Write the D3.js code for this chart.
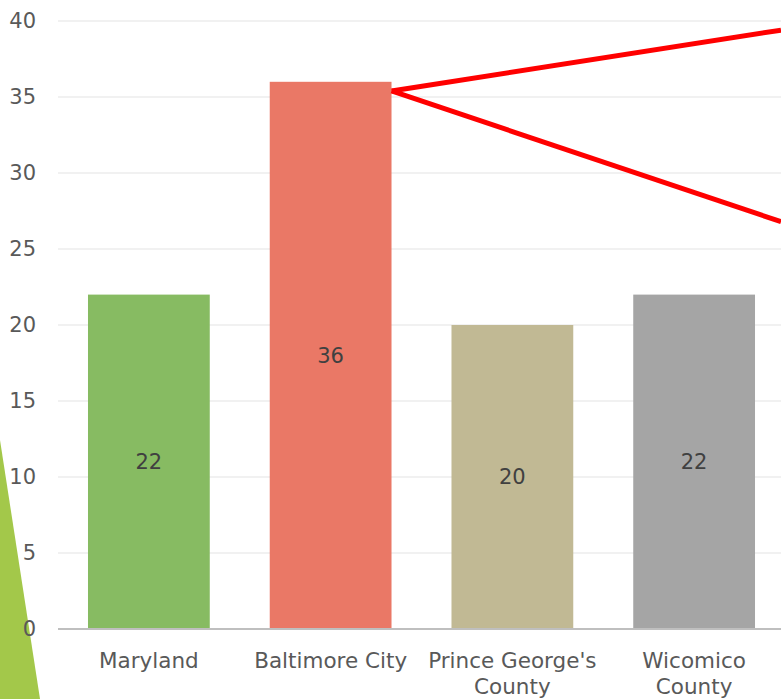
<!DOCTYPE html>
<html>
<head>
<meta charset="utf-8">
<script src="https://cdn.jsdelivr.net/npm/d3@7"></script>
<style>
html,body{margin:0;padding:0;background:#fff;overflow:hidden;}
svg{display:block;}
text{font-family:"DejaVu Sans",Verdana,sans-serif;}
</style>
</head>
<body>
<svg id="chart" width="781" height="699"></svg>
<script>
const categories = [["Maryland"], ["Baltimore City"], ["Prince George's", "County"], ["Wicomico", "County"]];
const values = [22, 36, 20, 22];
const barColors = ["#87bb62", "#ea7866", "#c1b994", "#a5a5a5"];
const yTicks = [0, 5, 10, 15, 20, 25, 30, 35, 40];
// annotation lines from the Baltimore City bar (values in data units)
const annoStart = 35.4;
const annoEnds = [39.4, 26.8];

const W = 781, H = 699;
const svg = d3.select("#chart");
const margin = {left: 58, top: 21, bottom: 70};
const plotRight = 785;

// decorative green triangle
svg.append("path")
  .attr("d", `M0,440 L40,${H} L0,${H} Z`)
  .attr("fill", "#a3c84a");

const x = d3.scaleBand().domain(d3.range(values.length)).range([margin.left, plotRight]).paddingInner(0.33).paddingOuter(0.165);
const y = d3.scaleLinear().domain([0, 40]).range([629, 21]);

// gridlines
svg.append("g").selectAll("line").data(yTicks.filter(d => d > 0)).join("line")
  .attr("x1", margin.left).attr("x2", W)
  .attr("y1", d => y(d)).attr("y2", d => y(d))
  .attr("stroke", "#ececec").attr("stroke-width", 1.5);

// y tick labels
svg.append("g").selectAll("text").data(yTicks).join("text")
  .attr("x", 36).attr("y", d => y(d)).attr("dy", "0.35em")
  .attr("text-anchor", "end").attr("font-size", 21).attr("fill", "#595959")
  .text(d => d);

// bars
svg.append("g").selectAll("rect").data(values).join("rect")
  .attr("x", (d, i) => x(i)).attr("width", x.bandwidth())
  .attr("y", d => y(d)).attr("height", d => y(0) - y(d))
  .attr("fill", (d, i) => barColors[i]);

// axis line
svg.append("line").attr("x1", margin.left).attr("x2", W)
  .attr("y1", y(0)).attr("y2", y(0)).attr("stroke", "#bfbfbf").attr("stroke-width", 2);

// value labels
svg.append("g").selectAll("text").data(values).join("text")
  .attr("x", (d, i) => x(i) + x.bandwidth() / 2)
  .attr("y", d => (y(d) + y(0)) / 2).attr("dy", "0.35em")
  .attr("text-anchor", "middle").attr("font-size", 21).attr("fill", "#404040")
  .text(d => d);

// category labels
const cat = svg.append("g").selectAll("text").data(categories).join("text")
  .attr("x", (d, i) => x(i) + x.bandwidth() / 2)
  .attr("y", 668)
  .attr("text-anchor", "middle").attr("font-size", 21.5).attr("fill", "#595959");
cat.selectAll("tspan").data(d => d).join("tspan")
  .attr("x", function() { return d3.select(this.parentNode).attr("x"); })
  .attr("dy", (d, i) => i === 0 ? 0 : 26)
  .text(d => d);

// red annotation lines
const sx = x(1) + x.bandwidth();
svg.append("g").selectAll("line").data(annoEnds).join("line")
  .attr("x1", sx).attr("y1", y(annoStart))
  .attr("x2", W).attr("y2", d => y(d))
  .attr("stroke", "#ff0000").attr("stroke-width", 5);
</script>
</body>
</html>
